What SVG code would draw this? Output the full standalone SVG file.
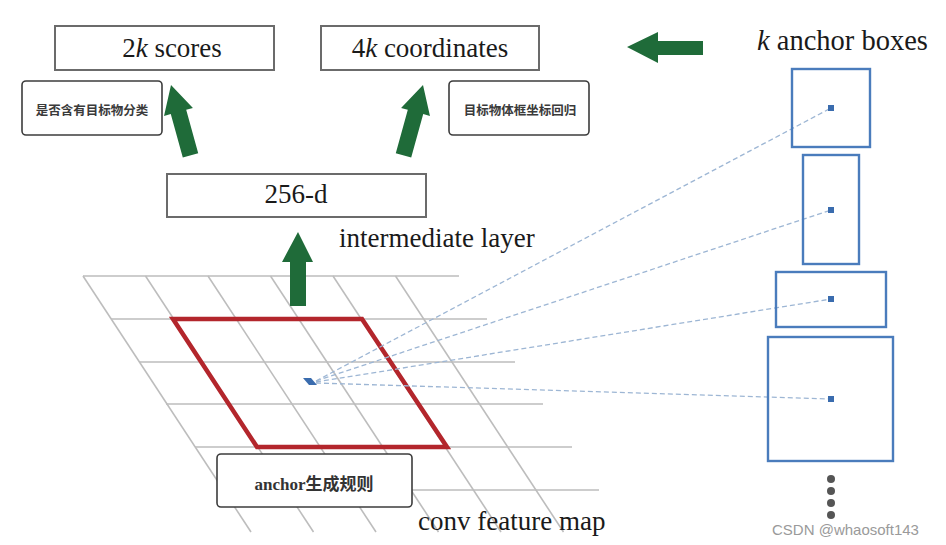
<svg xmlns="http://www.w3.org/2000/svg" width="946" height="545" viewBox="0 0 946 545">
<style>
.box{fill:#fff;stroke:#6b6b6b;stroke-width:2}
.note{fill:#fff;stroke:#3c3c3c;stroke-width:1.6}
.big{font-family:"Liberation Serif","Times New Roman",serif;font-size:27px;fill:#1a1a1a}
.cn{font-family:"Liberation Serif","Noto Sans CJK SC",serif;font-size:12.5px;fill:#3a3a3a;text-anchor:middle;font-weight:bold}
.grid{stroke:#bdbdbd;stroke-width:1.6;fill:none}
.arrow{fill:#1f6b39}
.anchor{fill:none;stroke:#4a7cbc;stroke-width:2.4}
.dot{fill:#3a6cae}
.dash{stroke:#9db6d4;stroke-width:1.3;stroke-dasharray:5 3;fill:none}
.ell{fill:#555}
</style>
<defs>
<polygon id="arr" points="0,0 15,28 8,28 8,73 -8,73 -8,28 -15,28"/>
</defs>
<rect width="946" height="545" fill="#fff"/>

<g id="feature-map">
<g class="grid">
<line x1="83" y1="276" x2="459" y2="276"/>
<line x1="111" y1="319" x2="487" y2="319"/>
<line x1="139" y1="362" x2="515" y2="362"/>
<line x1="166" y1="404" x2="543" y2="404"/>
<line x1="195" y1="447" x2="572" y2="447"/>
<line x1="223" y1="490" x2="599" y2="490"/>
<line x1="83" y1="276" x2="251" y2="532"/>
<line x1="145.5" y1="276" x2="313.5" y2="532"/>
<line x1="208" y1="276" x2="376" y2="532"/>
<line x1="270.5" y1="276" x2="438.5" y2="532"/>
<line x1="333" y1="276" x2="501" y2="532"/>
<line x1="395.5" y1="276" x2="563.5" y2="532"/>
</g>
<polygon points="173,319 362,319 447,447 257,447" fill="none" stroke="#b3262c" stroke-width="4.5" stroke-linejoin="miter"/>
<polygon points="303,378 311,378 317,385 309,385" fill="#3a6cae"/>
<text class="big" x="418" y="530">conv feature map</text>
</g>

<g id="connectors">
<line class="dash" x1="316" y1="381" x2="831" y2="108"/>
<line class="dash" x1="316" y1="381" x2="831" y2="210"/>
<line class="dash" x1="316" y1="382" x2="831" y2="299"/>
<line class="dash" x1="316" y1="383" x2="831" y2="399"/>
<use href="#arr" class="arrow" transform="translate(171,85) rotate(-15.5)"/>
<use href="#arr" class="arrow" transform="translate(423,85) rotate(15.5)"/>
<polygon class="arrow" points="298,232 313,262 306,262 306,306 290,306 290,262 282,262"/>
<polygon class="arrow" points="627,47 658,32 658,41 703,41 703,55 658,55 658,63"/>
</g>

<g id="scores">
<rect class="box" x="55" y="26" width="219" height="44"/>
<text class="big" x="172" y="57" text-anchor="middle">2<tspan font-style="italic">k</tspan> scores</text>
</g>

<g id="coordinates">
<rect class="box" x="321" y="26" width="218" height="44"/>
<text class="big" x="430" y="57" text-anchor="middle" font-size="28">4<tspan font-style="italic">k</tspan> coordinates</text>
</g>

<g id="note-cls">
<rect class="note" x="22" y="81" width="140" height="54" rx="4"/>
<text class="cn" x="92" y="115">是否含有目标物分类</text>
</g>

<g id="note-reg">
<rect class="note" x="449" y="81" width="140" height="54" rx="4"/>
<text class="cn" x="520" y="115">目标物体框坐标回归</text>
</g>

<g id="intermediate">
<rect class="box" x="167" y="174" width="259" height="43"/>
<text class="big" x="296" y="203" text-anchor="middle">256-d</text>
<text class="big" x="339" y="247">intermediate layer</text>
</g>

<g id="anchor-rule">
<rect class="note" x="217" y="454" width="195" height="53" rx="4"/>
<text x="314" y="490" text-anchor="middle" font-family="'Liberation Serif','Noto Sans CJK SC',serif" font-size="17" font-weight="bold" fill="#333">anchor生成规则</text>
</g>

<g id="anchor-boxes">
<text class="big" x="757" y="50" style="font-size:28.5px"><tspan font-style="italic">k</tspan> anchor boxes</text>
<rect class="anchor" x="792" y="69" width="78" height="78"/>
<rect class="dot" x="828" y="105" width="6" height="6"/>
<rect class="anchor" x="803" y="155" width="56" height="109"/>
<rect class="dot" x="828" y="207" width="6" height="6"/>
<rect class="anchor" x="776" y="272" width="110" height="55"/>
<rect class="dot" x="828" y="296" width="6" height="6"/>
<rect class="anchor" x="768" y="337" width="125" height="124"/>
<rect class="dot" x="828" y="396" width="6" height="6"/>
<circle class="ell" cx="831" cy="479" r="4"/>
<circle class="ell" cx="831" cy="491" r="4"/>
<circle class="ell" cx="831" cy="503" r="4"/>
<circle class="ell" cx="831" cy="515" r="4"/>
</g>

<text x="772" y="535" font-family="'Liberation Sans',Arial,sans-serif" font-size="15" fill="#9a9a9a">CSDN @whaosoft143</text>
</svg>
